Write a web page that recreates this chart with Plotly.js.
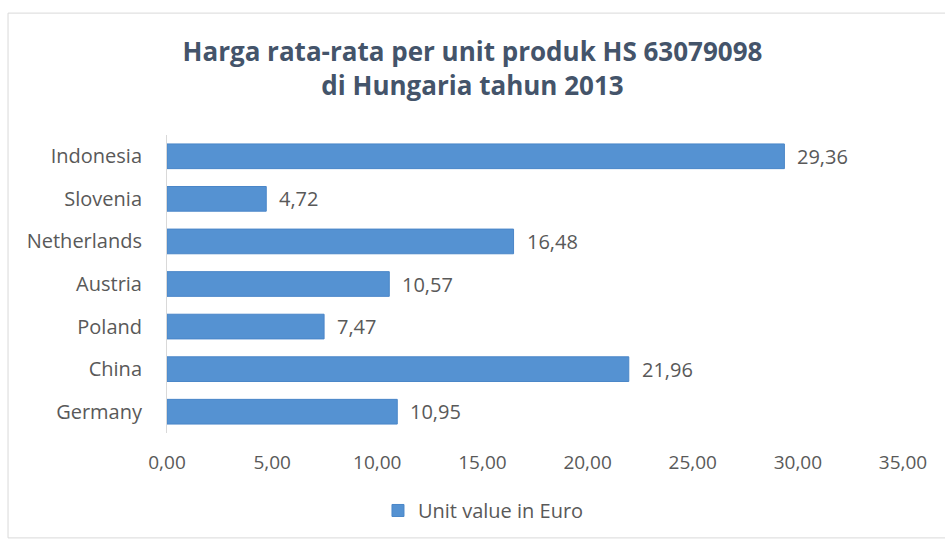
<!DOCTYPE html>
<html><head><meta charset="utf-8">
<script src="https://cdn.plot.ly/plotly-3.0.1.min.js"></script>
<style>html,body{margin:0;padding:0;background:#fff;}#chart{width:945px;height:542px;}</style>
</head><body><div id="chart"></div>
<script>
const countries = ["Indonesia","Slovenia","Netherlands","Austria","Poland","China","Germany"];
const unitValues = [29.36, 4.72, 16.48, 10.57, 7.47, 21.96, 10.95];
const seriesName = "Unit value in Euro";
const xTicks = [0,5,10,15,20,25,30,35];

const fontFam = "'Open Sans', 'Noto Sans', sans-serif";
const gray = "#595959";

const trace = {
  type: "bar", orientation: "h",
  y: countries, x: unitValues, name: seriesName,
  marker: {color: "#5592d2", line: {color: "#4a86c8", width: 1}},
  hoverinfo: "x+y", showlegend: true
};

const annotations = countries.map((c, i) => ({
  x: unitValues[i], y: c, xref: "x", yref: "y",
  text: unitValues[i].toFixed(2).replace(".", ","),
  showarrow: false, xanchor: "left", xshift: 11,
  font: {family: fontFam, size: 20, color: gray}
}));

const layout = {
  width: 945, height: 542,
  margin: {l: 167, r: 42, t: 135, b: 106},
  paper_bgcolor: "#fff", plot_bgcolor: "#fff",
  separators: ",.",
  title: {
    text: "<b>Harga rata-rata per unit produk HS 63079098<br>di Hungaria tahun 2013</b>",
    font: {family: fontFam, size: 26, color: "#44546a"},
    x: 0.5, xanchor: "center", y: 0.888, yanchor: "middle"
  },
  xaxis: {
    range: [0, 35], tickvals: xTicks, tickformat: ".2f",
    showgrid: false, zeroline: false, showline: false,
    ticks: "", ticklabelstandoff: 16,
    tickfont: {family: fontFam, size: 19, color: gray}
  },
  yaxis: {
    autorange: "reversed", showgrid: false, zeroline: false,
    showline: true, linecolor: "#d9d9d9", linewidth: 1,
    ticks: "", ticklabelstandoff: 20,
    tickfont: {family: fontFam, size: 20, color: gray}
  },
  bargap: 0.42,
  legend: {
    orientation: "h", x: 0.43, xanchor: "center", y: -0.26, yanchor: "middle",
    font: {family: fontFam, size: 20, color: gray}
  },
  annotations: annotations,
  shapes: [{
    type: "rect", xref: "paper", yref: "paper",
    x0: -0.216, x1: 1.065, y0: -0.352, y1: 1.409,
    line: {color: "#d9d9d9", width: 1}, fillcolor: "rgba(0,0,0,0)", layer: "below"
  }]
};

Plotly.newPlot("chart", [trace], layout, {displayModeBar: false, staticPlot: true});
</script></body></html>
